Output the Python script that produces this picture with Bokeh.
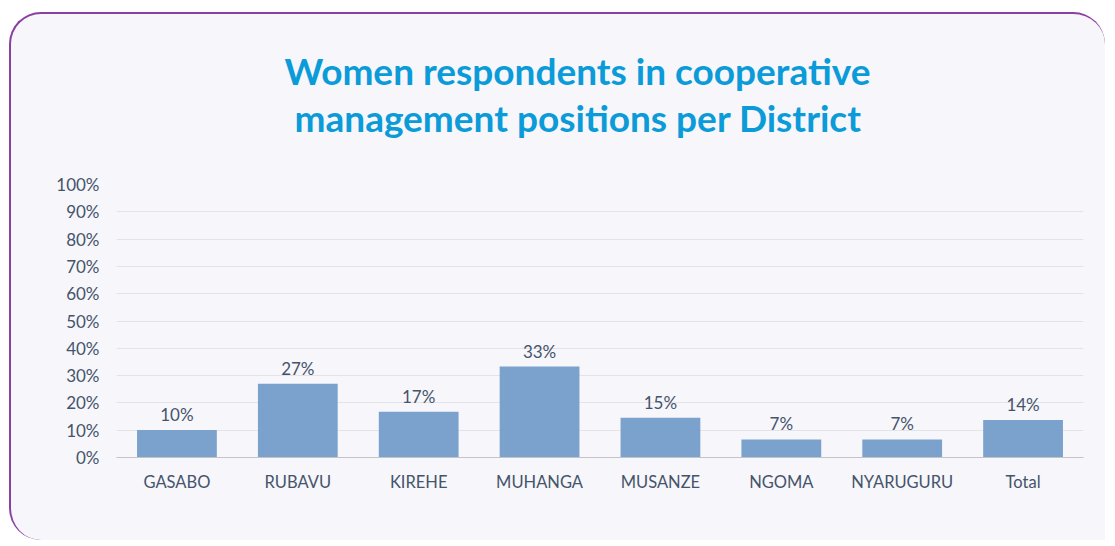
from bokeh.plotting import figure
from bokeh.models import (ColumnDataSource, FactorRange, Range1d, FixedTicker,
                          PrintfTickFormatter, Title)
from bokeh.core.properties import value
from bokeh.embed import file_html
from bokeh.resources import INLINE

# ---- data ----
districts = ["GASABO", "RUBAVU", "KIREHE", "MUHANGA", "MUSANZE", "NGOMA", "NYARUGURU", "Total"]
shares = [10.1, 27.0, 16.8, 33.3, 14.6, 6.6, 6.6, 13.7]
share_labels = ["10%", "27%", "17%", "33%", "15%", "7%", "7%", "14%"]
y_ticks = [0, 10, 20, 30, 40, 50, 60, 70, 80, 90, 100]
title_line1 = "Women  respondents in cooperative"
title_line2 = "management positions per District"

TXT = "#44546a"
FONT = "Lato"
CARD = "#f7f6fb"
PURPLE = "#8b3fa0"

src = ColumnDataSource(dict(x=districts, y=shares, lab=share_labels))

p = figure(width=1096, height=528, output_backend="svg", toolbar_location=None,
           x_range=FactorRange(factors=districts, range_padding=0),
           y_range=Range1d(0, 100),
           min_border_left=105, min_border_right=24, min_border_top=170,
           min_border_bottom=85, title=None)

# card look: rounded purple frame around a lavender panel
p.styles = {"margin-left": "9px", "margin-top": "12px",
            "background-color": CARD,
            "border-top": f"2px solid {PURPLE}", "border-left": f"2px solid {PURPLE}",
            "border-right": f"0px solid {PURPLE}", "border-bottom": f"0px solid {PURPLE}",
            "border-radius": "32px 32px 0px 32px"}
p.border_fill_color = None
p.background_fill_color = None
p.outline_line_color = None

p.vbar(x="x", top="y", width=0.66, source=src, fill_color="#7aa2cd", line_color=None)
p.text(x="x", y="y", text="lab", source=src, text_align="center", text_baseline="bottom",
       y_offset=-5, text_font=value(FONT), text_font_size="17px", text_color=TXT)

# axes
p.yaxis.ticker = FixedTicker(ticks=y_ticks)
p.yaxis.formatter = PrintfTickFormatter(format="%d%%")
p.yaxis.axis_line_color = None
p.yaxis.major_tick_line_color = None
p.yaxis.major_tick_out = 0
p.yaxis.major_tick_in = 0
p.yaxis.minor_tick_line_color = None
p.yaxis.major_label_standoff = 17
p.yaxis.major_label_text_font = FONT
p.yaxis.major_label_text_font_size = "17px"
p.yaxis.major_label_text_color = TXT

p.xaxis.axis_line_color = "#c4c4c8"
p.xaxis.axis_line_width = 1
p.xaxis.major_tick_line_color = None
p.xaxis.major_tick_out = 0
p.xaxis.major_tick_in = 0
p.xaxis.minor_tick_line_color = None
p.xaxis.major_label_standoff = 14
p.xaxis.major_label_text_font = FONT
p.xaxis.major_label_text_font_size = "16.5px"
p.xaxis.major_label_text_color = TXT

p.xgrid.grid_line_color = None
p.ygrid.ticker = FixedTicker(ticks=y_ticks)
p.ygrid.grid_line_color = "#e3e3e8"
p.ygrid.grid_line_width = 1

# title: two lines, second one (nearest the plot) carries a blank spacer line
title_style = dict(vertical_align="bottom", align="left", text_font=FONT,
                   text_font_style="bold", text_font_size="37px",
                   text_line_height=1.0, text_color="#0a9bd8", standoff=0)
p.add_layout(Title(text=title_line2 + "\n", offset=178, **title_style), "above")
p.add_layout(Title(text=title_line1, offset=168, **title_style), "above")

open("out.html", "w").write(file_html(p, INLINE))
